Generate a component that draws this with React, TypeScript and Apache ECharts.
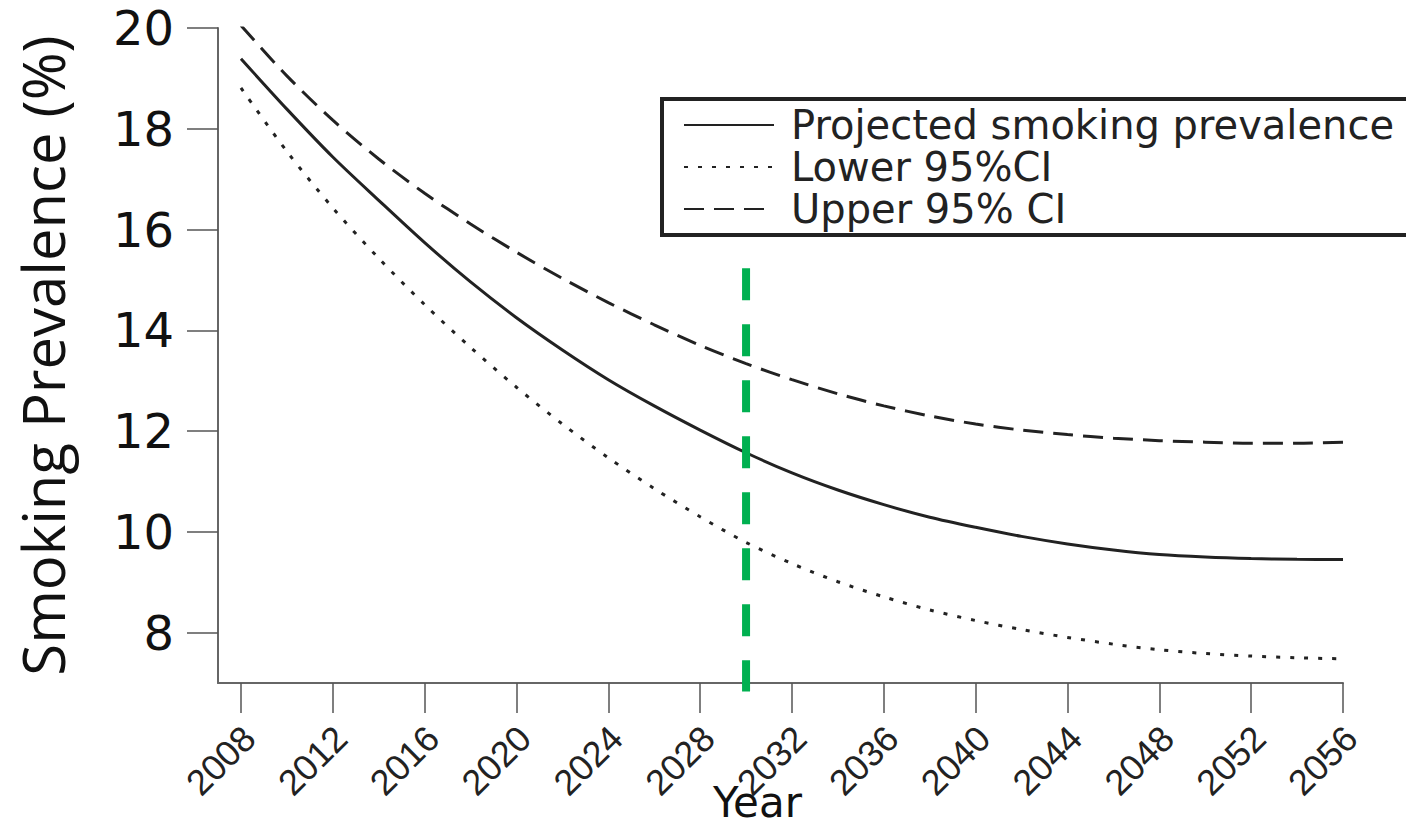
import React, { useEffect, useRef } from "react";
import * as echarts from "echarts";

const years = [2008, 2010, 2012, 2014, 2016, 2018, 2020, 2022, 2024, 2026, 2028, 2030, 2032, 2034, 2036, 2038, 2040, 2042, 2044, 2046, 2048, 2050, 2052, 2054, 2056];
const projected = [19.39, 18.39, 17.44, 16.58, 15.74, 14.96, 14.25, 13.61, 13.02, 12.5, 12.02, 11.57, 11.17, 10.83, 10.54, 10.29, 10.09, 9.91, 9.76, 9.64, 9.55, 9.5, 9.47, 9.455, 9.45];
const lower95 = [18.81, 17.55, 16.43, 15.43, 14.51, 13.66, 12.87, 12.14, 11.47, 10.86, 10.3, 9.79, 9.37, 9.01, 8.71, 8.45, 8.24, 8.06, 7.905, 7.77, 7.66, 7.585, 7.535, 7.5, 7.48];
const upper95 = [20.05, 19.05, 18.17, 17.4, 16.72, 16.11, 15.55, 15.03, 14.55, 14.11, 13.7, 13.34, 13.02, 12.74, 12.5, 12.3, 12.14, 12.02, 11.93, 11.86, 11.81, 11.78, 11.76, 11.76, 11.78];

const xTicks = [2008, 2012, 2016, 2020, 2024, 2028, 2032, 2036, 2040, 2044, 2048, 2052, 2056];
const yTicks = [8, 10, 12, 14, 16, 18, 20];

const cutoffYear = 2030;
const cutoffRange = [15.23, 6.83];

const seriesNames = ["Projected smoking prevalence", "Lower 95%CI", "Upper 95% CI"];

export default function App() {
  const ref = useRef<HTMLDivElement>(null);
  useEffect(() => {
    document.body.style.margin = "0";
    if (!ref.current) return;
    const chart = echarts.init(ref.current, null, { renderer: "svg" });
    const pairs = (vals: number[]) => years.map((y, i) => [y, vals[i]]);
    chart.setOption({
      animation: false,
      backgroundColor: "#ffffff",
      grid: { left: 218, right: 63, top: 28, bottom: 144, containLabel: false, outerBoundsMode: "none" },
      legend: {
        data: seriesNames,
        orient: "vertical",
        left: 662,
        top: 99,
        padding: [5, 40, 5, 21],
        itemGap: 0,
        itemWidth: 90,
        itemHeight: 2,
        borderColor: "#222",
        borderWidth: 4,
        backgroundColor: "#fff",
        selectedMode: false,
        itemStyle: { color: "rgba(0,0,0,0)", borderColor: "rgba(0,0,0,0)", borderWidth: 0, opacity: 0 },
        textStyle: {
          fontFamily: "DejaVu Sans",
          fontSize: 40,
          color: "#222",
          lineHeight: 42,
          padding: [0, 0, 0, 12],
        },
      },
      xAxis: {
        type: "value",
        min: 2007,
        max: 2056,
        name: "Year",
        nameLocation: "middle",
        nameGap: 98,
        nameMoveOverlap: false,
        nameTextStyle: { fontFamily: "DejaVu Sans", fontSize: 42, color: "#111", padding: [0, 46, 0, 0] },
        axisLine: { show: true, lineStyle: { color: "#666", width: 2 } },
        axisTick: { show: true, customValues: xTicks, length: 30, lineStyle: { color: "#555", width: 1.5 } },
        axisLabel: {
          customValues: xTicks,
          rotate: 45,
          margin: 41,
          verticalAlign: "top",
          lineHeight: 23,
          fontFamily: "Liberation Sans",
          fontSize: 36,
          color: "#222",
          formatter: (v: number) => String(v),
        },
        splitLine: { show: false },
      },
      yAxis: {
        type: "value",
        min: 7,
        max: 20,
        name: "Smoking Prevalence (%)",
        nameLocation: "middle",
        nameGap: 147,
        nameMoveOverlap: false,
        nameTextStyle: { fontFamily: "Open Sans", fontSize: 58, color: "#111" },
        axisLine: { show: true, lineStyle: { color: "#666", width: 2 } },
        axisTick: { show: true, customValues: yTicks, length: 31, lineStyle: { color: "#555", width: 1.5 } },
        axisLabel: {
          customValues: yTicks,
          margin: 44,
          fontFamily: "DejaVu Sans",
          fontSize: 48,
          color: "#111",
        },
        splitLine: { show: false },
      },
      series: [
        {
          name: seriesNames[0],
          type: "line",
          data: pairs(projected),
          smooth: 0.3,
          symbol: "none",
          lineStyle: { color: "#222", width: 3, type: "solid" },
          itemStyle: { color: "#222" },
        },
        {
          name: seriesNames[1],
          type: "line",
          data: pairs(lower95),
          smooth: 0.3,
          symbol: "none",
          lineStyle: { color: "#222", width: 3, type: [4, 10] },
          itemStyle: { color: "#222" },
        },
        {
          name: seriesNames[2],
          type: "line",
          data: pairs(upper95),
          smooth: 0.3,
          symbol: "none",
          lineStyle: { color: "#222", width: 3, type: [20, 10] },
          itemStyle: { color: "#222" },
        },
        {
          name: "2030",
          type: "line",
          data: cutoffRange.map((v) => [cutoffYear, v]),
          symbol: "none",
          clip: false,
          silent: true,
          lineStyle: { color: "#00b050", width: 8, type: [32, 24] },
          z: 5,
        },
      ],
    });
    return () => chart.dispose();
  }, []);
  return <div ref={ref} style={{ width: 1406, height: 827 }} />;
}
